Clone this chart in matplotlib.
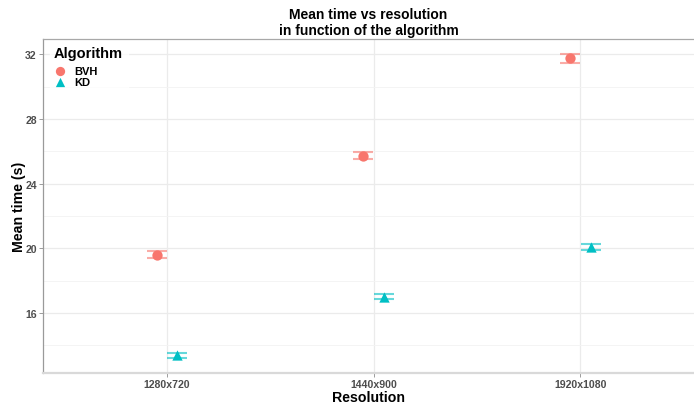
import matplotlib
matplotlib.use("Agg")
import matplotlib.pyplot as plt
import numpy as np

plt.rcParams["font.family"] = ["Liberation Sans", "DejaVu Sans"]

resolutions = ["1280x720", "1440x900", "1920x1080"]
algorithms = ["BVH", "KD"]
mean_bvh = [19.62, 25.73, 31.75]
err_bvh = [0.2, 0.2, 0.28]
mean_kd = [13.4, 17.0, 20.06]
err_kd = [0.16, 0.16, 0.18]

colors = {"BVH": "#F8766D", "KD": "#00BFC4"}
markers = {"BVH": "o", "KD": "^"}
dodge = {"BVH": -0.05, "KD": 0.05}

fig = plt.figure(figsize=(6.94, 4.06), dpi=100)
ax = fig.add_axes([0.062, 0.079, 0.938, 0.822])

x = np.arange(1, len(resolutions) + 1)
for algo, means, errs in [("BVH", mean_bvh, err_bvh), ("KD", mean_kd, err_kd)]:
    xs = x + dodge[algo]
    ax.errorbar(xs, means, yerr=errs, fmt="none", ecolor=colors[algo], alpha=0.6,
                elinewidth=1.2, capsize=7.2, capthick=1.5, zorder=3)
    ax.scatter(xs, means, marker=markers[algo], s=55, color=colors[algo],
               label=algo, zorder=4, linewidths=0)

ax.set_xlim(0.4, 3.55)
ax.set_ylim(12.3, 32.93)
ax.set_xticks(x)
ax.set_xticklabels(resolutions)
ax.set_yticks([16, 20, 24, 28, 32])
ax.set_yticks([14, 18, 22, 26, 30], minor=True)

ax.grid(True, which="major", color="#EBEBEB", linewidth=0.9)
ax.grid(True, which="minor", axis="y", color="#F3F3F3", linewidth=0.6)
ax.set_axisbelow(True)

ax.tick_params(axis="both", which="major", labelsize=7.6, colors="#8C8C8C",
               labelcolor="#4D4D4D", length=3, width=0.6, pad=1.5)
ax.tick_params(axis="y", which="minor", length=0)
for lab in ax.get_xticklabels() + ax.get_yticklabels():
    lab.set_fontweight("bold")

ax.spines["right"].set_visible(False)
ax.spines["left"].set_color("#9A9A9A")
ax.spines["left"].set_linewidth(0.9)
ax.spines["top"].set_color("#A8A8A8")
ax.spines["top"].set_linewidth(0.9)
ax.spines["bottom"].set_color("#D9D9D9")
ax.spines["bottom"].set_linewidth(1.6)

ax.set_xlabel("Resolution", fontsize=10.2, fontweight="bold")
ax.set_ylabel("Mean time (s)", fontsize=10.2, fontweight="bold")
ax.xaxis.set_label_coords(0.5, -0.052)
ax.yaxis.set_label_coords(-0.026, 0.5)
ax.set_title("Mean time vs resolution\nin function of the algorithm",
             fontsize=10, fontweight="bold", linespacing=1.15, pad=4)

leg = ax.legend(title="Algorithm", loc="upper left", bbox_to_anchor=(0.005, 1.003),
                frameon=True, fontsize=8,
                title_fontproperties={"weight": "bold", "size": 10.5},
                borderaxespad=0.3, handletextpad=0.85, labelspacing=0.15,
                handlelength=1.0, markerscale=0.9)
leg.get_frame().set_facecolor("white")
leg.get_frame().set_edgecolor("white")
leg._legend_box.align = "left"
leg._legend_box.sep = 4
for t in leg.get_texts():
    t.set_fontweight("bold")

fig.savefig("out.png", dpi=100)
